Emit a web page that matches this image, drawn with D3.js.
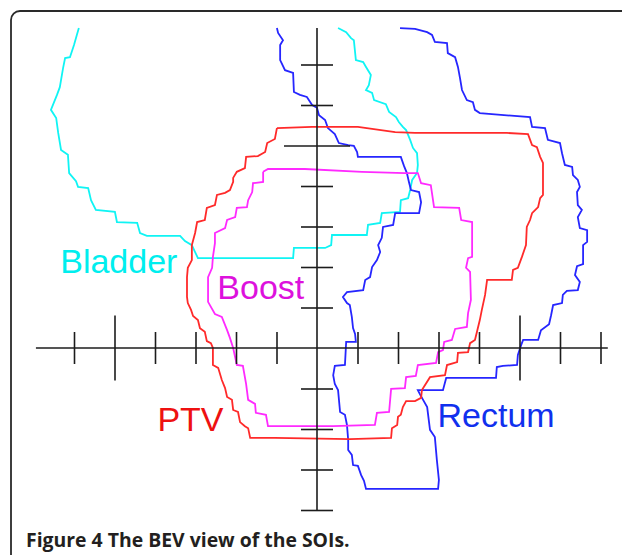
<!DOCTYPE html>
<html><head><meta charset="utf-8">
<script src="https://cdn.jsdelivr.net/npm/d3@7/dist/d3.min.js"></script>
<style>body{margin:0;background:#fff}svg{display:block}</style>
</head><body>
<svg id="chart" width="622" height="555"></svg>
<script>
// ---- data (mm in beam's-eye-view plane; 1 tick = 10 mm) ----
const bladder = [[-58.8,79.0],[-59.3,77.3],[-60.0,74.8],[-61.0,71.8],[-62.2,71.6],[-62.7,69.1],[-63.5,64.4],[-64.2,62.5],[-65.7,58.8],[-64.4,56.8],[-63.9,53.1],[-63.2,48.9],[-61.5,47.7],[-61.2,43.2],[-59.5,41.2],[-59.0,39.8],[-56.5,39.5],[-55.8,36.5],[-54.6,34.1],[-49.9,33.6],[-49.4,31.1],[-44.4,30.9],[-43.7,28.4],[-42.0,27.7],[-33.8,27.7],[-32.6,26.4],[-30.9,25.4],[-30.1,23.7],[-29.4,22.2],[-5.9,22.2],[-5.7,24.7],[2.0,24.7],[3.5,25.4],[3.7,27.9],[12.3,27.9],[12.6,30.4],[15.6,30.9],[16.0,33.3],[20.5,33.6],[20.7,36.5],[22.5,37.0],[23.0,39.0],[23.5,41.5],[24.7,43.2],[24.9,45.2],[24.7,48.1],[23.7,49.4],[23.0,51.4],[22.0,53.8],[21.2,54.6],[20.2,55.8],[19.5,57.0],[17.8,58.3],[17.0,60.2],[14.1,61.2],[13.6,63.0],[12.1,63.7],[12.8,64.9],[13.3,67.4],[12.1,69.4],[11.4,70.6],[9.6,71.1],[9.1,76.0],[8.4,76.5],[7.2,78.0],[5.2,79.0]];

const rectum = [[-9.9,79.0],[-9.6,77.8],[-8.4,76.0],[-9.1,74.8],[-9.1,71.1],[-7.9,68.6],[-5.9,67.9],[-5.7,63.2],[-4.2,62.5],[-2.5,62.0],[-1.2,60.0],[0,59.3],[0.5,57.5],[2.0,56.3],[2.7,54.3],[4.4,52.8],[5.4,50.6],[7.7,50.1],[9.1,49.9],[9.9,48.4],[10.1,47.2],[20.7,47.2],[21.5,44.9],[22.2,43.2],[22.7,41.0],[23.2,39.0],[25.2,38.5],[25.7,36.0],[25.2,33.3],[19.3,33.3],[18.8,30.4],[16.3,29.9],[16.0,27.2],[15.1,25.4],[15.6,23.7],[14.8,21.7],[13.6,20.0],[13.1,17.5],[11.9,16.8],[11.4,14.3],[7.4,13.8],[6.4,12.6],[7.4,11.1],[8.1,10.6],[8.6,7.7],[8.9,4.9],[9.4,3.5],[9.6,1.5],[7.2,1.5],[6.9,-4.2],[4.4,-4.4],[4.0,-6.7],[4.4,-8.9],[5.2,-10.4],[5.7,-15.8],[6.9,-16.5],[7.4,-19.0],[7.7,-22.7],[7.7,-25.2],[8.6,-26.4],[8.9,-28.9],[10.1,-29.1],[10.9,-31.4],[11.6,-32.8],[12.1,-34.8],[29.9,-34.8],[30.1,-32.6],[29.6,-27.7],[29.1,-22.0],[27.9,-20.2],[27.2,-14.6],[26.2,-12.8],[25.4,-11.4],[24.9,-10.4],[31.1,-10.4],[31.9,-7.4],[44.2,-7.4],[44.4,-4.7],[45.9,-4.4],[49.4,-4.2],[49.6,-1.7],[50.4,0.7],[50.9,2.0],[54.6,2.0],[55.3,4.4],[57.3,5.9],[57.8,8.1],[58.3,10.6],[60.5,11.1],[60.7,13.1],[61.7,14.1],[64.4,14.3],[64.9,16.3],[63.7,18.0],[64.2,20.2],[65.7,20.7],[65.7,25.4],[66.7,26.2],[66.7,29.1],[64.9,29.6],[64.4,32.3],[65.4,34.1],[64.4,35.3],[64.2,38.5],[64.9,39.8],[64.4,41.5],[63.2,42.7],[63.0,44.7],[61.2,45.2],[60.5,48.1],[60.0,50.6],[57.0,51.4],[56.3,54.3],[53.1,54.6],[52.6,57.0],[40.2,58.0],[39.0,58.8],[38.5,60.7],[37.0,61.2],[35.8,63.7],[35.3,66.7],[34.8,69.4],[34.1,71.8],[32.3,72.8],[32.1,75.3],[29.1,75.6],[28.4,77.3],[27.2,78.0],[24.2,78.8],[20.5,79.0]];

const ptv = [[-9.9,54.3],[-1.2,54.6],[10.1,54.6],[19.3,53.3],[24.2,53.1],[46.9,53.1],[52.1,52.8],[53.1,50.1],[54.3,49.6],[55.1,47.2],[55.8,45.7],[55.8,37.8],[55.1,37.0],[54.6,34.8],[53.1,33.3],[52.6,31.6],[51.8,29.9],[51.6,25.4],[50.6,22.5],[49.6,19.8],[48.4,19.3],[48.1,16.8],[42.0,16.8],[41.5,13.1],[40.7,9.4],[40.2,6.9],[39.5,4.0],[39.0,2.0],[37.8,1.2],[37.3,-1.0],[34.8,-1.2],[34.6,-3.5],[32.1,-4.2],[31.6,-6.7],[27.9,-7.2],[25.9,-10.4],[25.7,-12.3],[24.2,-13.1],[22.0,-13.1],[21.2,-14.6],[20.7,-16.5],[20.0,-17.0],[19.8,-19.0],[18.5,-19.8],[18.3,-22.2],[8.1,-22.5],[-10.4,-22.2],[-16.5,-22.2],[-17.0,-19.8],[-17.8,-19.3],[-19.0,-18.3],[-19.5,-15.8],[-20.7,-15.3],[-21.0,-12.8],[-22.2,-12.1],[-22.7,-9.9],[-23.5,-7.9],[-24.4,-4.9],[-25.7,-4.2],[-25.7,0],[-26.2,1.2],[-27.2,1.7],[-27.7,4.0],[-28.9,4.9],[-29.4,6.9],[-30.6,7.9],[-31.1,9.4],[-31.9,11.1],[-32.1,12.6],[-32.1,17.5],[-31.9,19.8],[-30.9,21.7],[-30.9,25.4],[-30.1,28.4],[-29.6,31.1],[-27.7,31.6],[-27.2,34.6],[-25.2,35.3],[-24.7,37.8],[-22.7,38.3],[-21.5,39.0],[-20.7,41.0],[-20.7,42.0],[-19.8,43.5],[-17.8,44.4],[-17.5,47.2],[-14.6,47.4],[-12.8,48.4],[-12.3,50.6],[-10.4,51.6]];

const boost = [[-13.3,43.5],[-12.1,44.2],[-3.0,44.2],[11.1,43.5],[21.7,43.2],[24.9,43.2],[25.7,40.7],[28.1,40.2],[28.9,34.8],[35.1,34.6],[35.6,31.6],[38.3,31.1],[38.3,22.5],[37.3,22.2],[36.8,19.8],[37.8,18.8],[38.0,11.9],[37.3,8.6],[37.0,5.2],[34.1,4.7],[33.3,2.0],[31.4,1.5],[31.1,-0.5],[29.9,-1.0],[29.4,-3.7],[24.9,-4.2],[24.4,-6.9],[22.0,-7.2],[21.7,-9.9],[18.3,-10.1],[17.8,-15.8],[14.8,-16.0],[14.3,-19.0],[4.0,-19.3],[-12.1,-19.3],[-12.6,-16.5],[-15.1,-16.0],[-15.3,-13.8],[-17.0,-12.8],[-17.5,-8.9],[-18.3,-4.4],[-19.8,-4.2],[-20.7,0],[-21.5,2.5],[-22.2,4.4],[-23.5,7.7],[-25.2,8.4],[-26.9,11.4],[-26.9,17.5],[-25.9,19.8],[-25.7,22.5],[-25.2,25.9],[-25.2,28.4],[-22.7,29.6],[-22.2,31.6],[-20.2,32.3],[-19.8,34.6],[-17.3,34.8],[-17.0,36.5],[-16.0,38.5],[-15.8,40.7],[-13.3,41.0]];

const structureNames = ["Bladder", "Rectum", "PTV", "Boost"];
const xTickValues = [-60,-50,-40,-30,-20,-10,10,20,30,40,50,60,70];
const yTickValues = [-40,-30,-20,-10,10,20,30,40,50,60,70];
const captionBold = "Figure 4";
const captionRest = "The BEV view of the SOIs.";

// ---- layout / style ----
const svg = d3.select("#chart");
const x = d3.scaleLinear().domain([-70, 70]).range([317 - 283.5, 317 + 283.5]);
const y = d3.scaleLinear().domain([-40, 80]).range([348 + 162, 348 - 324]);
const xExtent = [-69.4, 71.8], yExtent = [-40, 79.0];
const longX = [-50, 50], longY = [50];
const axisColor = "#1c1c1c";

// frame
svg.append("rect").attr("x", 11).attr("y", 11).attr("width", 700).attr("height", 600)
  .attr("rx", 9).attr("fill", "none").attr("stroke", "#2a2a2a").attr("stroke-width", 1.8);

const line = d3.line().x(d => x(d[0])).y(d => y(d[1]));
const styles = {
  Bladder: {data: bladder, color: "#10f4f4", closed: false, text: "#00eeee"},
  Rectum:  {data: rectum,  color: "#2626ff", closed: false, text: "#1030ee"},
  PTV:     {data: ptv,     color: "#ff2a2a", closed: true,  text: "#ee1111"},
  Boost:   {data: boost,   color: "#ff2aff", closed: true,  text: "#dd11dd"}
};
structureNames.forEach(n => {
  const s = styles[n];
  const pts = s.closed ? s.data.concat([s.data[0]]) : s.data;
  svg.append("path").attr("d", line(pts)).attr("fill", "none")
    .attr("stroke", s.color).attr("stroke-width", 1.8).attr("stroke-linejoin", "miter");
});

// axes
const ax = svg.append("g");
ax.append("line").attr("x1", x(xExtent[0])).attr("x2", x(xExtent[1]))
  .attr("y1", y(0)).attr("y2", y(0)).attr("stroke", axisColor).attr("stroke-width", 1.6);
ax.append("line").attr("x1", x(0)).attr("x2", x(0))
  .attr("y1", y(yExtent[1])).attr("y2", y(yExtent[0])).attr("stroke", axisColor).attr("stroke-width", 1.6);

function styleAxis(g) {
  g.select(".domain").remove();
  g.selectAll(".tick text").remove();
  g.selectAll(".tick line").attr("stroke", axisColor).attr("stroke-width", 1.6);
}
const xb = ax.append("g").attr("transform", `translate(0,${y(0)})`)
  .call(d3.axisBottom(x).tickValues(xTickValues).tickSize(16).tickSizeOuter(0).tickFormat(""));
const xt = ax.append("g").attr("transform", `translate(0,${y(0)})`)
  .call(d3.axisTop(x).tickValues(xTickValues).tickSize(16).tickSizeOuter(0).tickFormat(""));
[xb, xt].forEach(g => styleAxis(g));
xb.selectAll(".tick line").filter(d => longX.includes(d)).attr("y2", 32.5);
xt.selectAll(".tick line").filter(d => longX.includes(d)).attr("y2", -32.5);

const yl = ax.append("g").attr("transform", `translate(${x(0)},0)`)
  .call(d3.axisLeft(y).tickValues(yTickValues).tickSize(16).tickSizeOuter(0).tickFormat(""));
const yr = ax.append("g").attr("transform", `translate(${x(0)},0)`)
  .call(d3.axisRight(y).tickValues(yTickValues).tickSize(16).tickSizeOuter(0).tickFormat(""));
[yl, yr].forEach(g => styleAxis(g));
yl.selectAll(".tick line").filter(d => longY.includes(d)).attr("x2", -33);
yr.selectAll(".tick line").filter(d => longY.includes(d)).attr("x2", 33);

// labels
const labelPos = {Bladder: [-63.4, 18.6], Boost: [-24.6, 12.0], PTV: [-39.4, -20.6], Rectum: [29.75, -19.5]};
const labelOrder = ["Bladder", "Boost", "PTV", "Rectum"];
labelOrder.forEach(n => {
  svg.append("text").attr("x", x(labelPos[n][0])).attr("y", y(labelPos[n][1]))
    .attr("font-family", "'Liberation Sans', Arial, sans-serif").attr("font-size", 34)
    .attr("fill", styles[n].text).text(n);
});

// caption
const cap = svg.append("text").attr("x", 26).attr("y", 546.5)
  .attr("font-family", "'Open Sans', sans-serif").attr("font-size", 19.4).attr("font-weight", 700)
  .attr("fill", "#231f20");
cap.append("tspan").text(captionBold + " ");
cap.append("tspan").text(captionRest);
</script>
</body></html>
